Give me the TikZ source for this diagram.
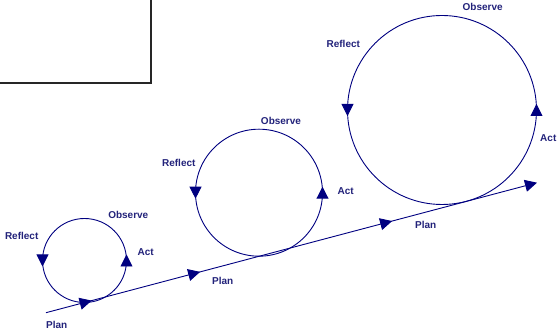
\documentclass[tikz,border=0pt]{standalone}
\usepackage{fontspec}
\newfontfamily\cyclefont{Liberation Sans}
\usetikzlibrary{arrows.meta,decorations.markings}
\definecolor{arNavy}{HTML}{000080}
\definecolor{arText}{HTML}{22227A}
\tikzset{
  >={Triangle[length=12pt,width=12pt]},
  stage/.style={font=\cyclefont\bfseries\fontsize{10}{12}\selectfont, text=arText, inner sep=0pt},
  cycleloop/.style={draw=arNavy, line width=0.9pt,
    decoration={markings,
      mark=at position 0.25 with {\arrow[xshift=6pt]{>}},
      mark=at position 0.75 with {\arrow[xshift=6pt]{>}}},
    postaction={decorate}},
  spiral/.style={draw=arNavy, line width=0.9pt, ->,
    decoration={markings,
      mark=at position 0.093 with {\arrow{>}},
      mark=at position 0.314 with {\arrow{>}},
      mark=at position 0.705 with {\arrow{>}}},
    postaction={decorate}},
  frameline/.style={draw=black!85, line width=2pt},
}

\begin{document}
\begin{tikzpicture}[x=1pt,y=1pt]
  \useasboundingbox (0,0) rectangle (558,331);

  % ── Corner frame (only its right and bottom edges show) ──
  \coordinate (fa) at (0,248);
  \coordinate (fb) at (151,248);
  \coordinate (fc) at (151,331);
  \draw[frameline] (fa) -- (fb) -- (fc);

  % ── Centres of the three cycles ──
  \coordinate (c1) at (84.5,70.5);
  \coordinate (c2) at (259,138.3);
  \coordinate (c3) at (442,221);

  % ── Cycles (counter-clockwise, arrows at left and right) ──
  \draw[cycleloop] (c1) ++(-90:42)   arc[start angle=-90, delta angle=360, radius=42];
  \draw[cycleloop] (c2) ++(-90:63.5) arc[start angle=-90, delta angle=360, radius=63.5];
  \draw[cycleloop] (c3) ++(-90:94.5) arc[start angle=-90, delta angle=360, radius=94.5];

  % ── Rising line through the bottoms of the cycles ──
  \coordinate (start) at (46,18.3);
  \coordinate (finish) at (537,148.3);
  \draw[spiral] (start) -- (finish);

  % ── Labels, first cycle ──
  \node[stage] (refl1) at (21.7,95.3)  {Reflect};
  \node[stage] (obs1)  at (128.3,116)  {Observe};
  \node[stage] (act1)  at (145.7,79.3) {Act};
  \node[stage] (plan1) at (56.7,6)     {Plan};

  % ── Labels, second cycle ──
  \node[stage] (refl2) at (178.8,167.7){Reflect};
  \node[stage] (obs2)  at (281,210)    {Observe};
  \node[stage] (act2)  at (345.7,140.3){Act};
  \node[stage] (plan2) at (222.7,50.3) {Plan};

  % ── Labels, third cycle ──
  \node[stage] (refl3) at (343.3,286.7){Reflect};
  \node[stage] (obs3)  at (482.7,323.7){Observe};
  \node[stage] (act3)  at (548.3,192.7){Act};
  \node[stage] (plan3) at (425.7,106)  {Plan};
\end{tikzpicture}
\end{document}
